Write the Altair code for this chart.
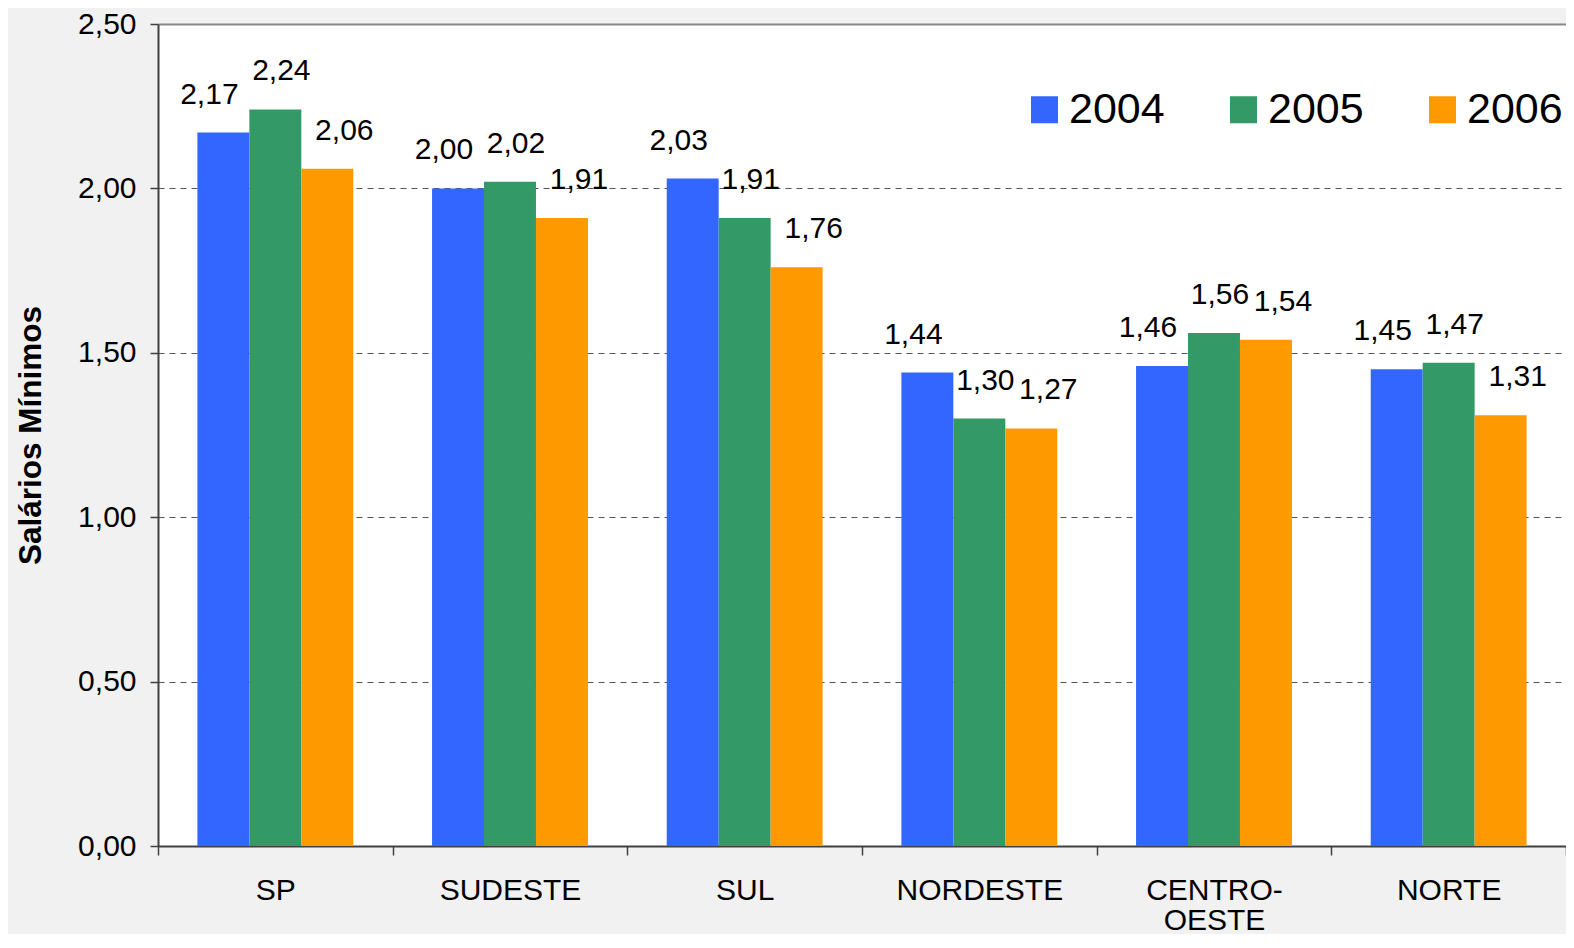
import altair as alt
import pandas as pd

regions = ["SP", "SUDESTE", "SUL", "NORDESTE", "CENTRO-OESTE", "NORTE"]
years = ["2004", "2005", "2006"]
v2004 = [2.17, 2.00, 2.03, 1.44, 1.46, 1.45]
v2005 = [2.24, 2.02, 1.91, 1.30, 1.56, 1.47]
v2006 = [2.06, 1.91, 1.76, 1.27, 1.54, 1.31]
colors = ["#3366FF", "#339966", "#FF9900"]
y_ticks = [0, 0.5, 1.0, 1.5, 2.0, 2.5]

rows = []
for yr, vals in zip(years, [v2004, v2005, v2006]):
    for r, v in zip(regions, vals):
        rows.append({"region": r, "year": yr, "value": v})
df = pd.DataFrame(rows)

FONT = "Liberation Sans"
PLOT_H = 822

x_enc = alt.X(
    "region:N",
    sort=regions,
    scale=alt.Scale(paddingInner=0, paddingOuter=0),
    axis=alt.Axis(
        title=None,
        tickBand="extent",
        labelExpr="datum.value == 'CENTRO-OESTE' ? ['CENTRO-', 'OESTE'] : datum.label",
        labelFontSize=30,
        labelColor="black",
        labelPadding=20,
        labelLineHeight=30,
        labelAngle=0,
        tickSize=9,
        tickColor="#404040",
        tickWidth=1.5,
        domainColor="#404040",
        domainWidth=2,
        grid=False,
    ),
)
xoff = alt.XOffset("year:N", sort=years, scale=alt.Scale(domain=years, paddingInner=0, paddingOuter=0.758))
y_enc = alt.Y(
    "value:Q",
    scale=alt.Scale(domain=[0, 2.5], nice=False),
    axis=alt.Axis(
        title="Salários Mínimos",
        titleFontSize=31.5,
        titleFontWeight="bold",
        titleColor="black",
        titleX=-127,
        titleY=PLOT_H / 2,
        titleAngle=270,
        titleAlign="center",
        titleBaseline="middle",
        values=y_ticks,
        labelExpr="replace(format(datum.value, '.2f'), '.', ',')",
        labelFontSize=30,
        labelColor="black",
        labelPadding=14,
        tickSize=8,
        tickColor="#404040",
        tickWidth=1.5,
        domainColor="#404040",
        domainWidth=2,
        grid=True,
        gridColor={"condition": {"test": "datum.value >= 2.5", "value": "#888888"}, "value": "#555555"},
        gridDash={"condition": {"test": "datum.value >= 2.5", "value": []}, "value": [6, 5]},
        gridWidth={"condition": {"test": "datum.value >= 2.5", "value": 2}, "value": 1},
    ),
)

bars = alt.Chart(df).mark_bar().encode(
    x=x_enc,
    xOffset=xoff,
    y=y_enc,
    color=alt.Color(
        "year:N",
        scale=alt.Scale(domain=years, range=colors),
        legend=alt.Legend(
            title=None,
            orient="none",
            legendX=865,
            legendY=64,
            direction="horizontal",
            symbolType="square",
            symbolSize=729,
            symbolStrokeWidth=0,
            labelFontSize=43,
            labelColor="black",
            labelOffset=3,
            columnPadding=57,
            padding=0,
        ),
    ),
)

dxs = {"2004": -14, "2005": 6, "2006": 17}
label_layers = []
for yr in years:
    label_layers.append(
        alt.Chart(df)
        .transform_filter(alt.datum.year == yr)
        .transform_calculate(lab="replace(format(datum.value, '.2f'), '.', ',')")
        .mark_text(fontSize=30, color="black", baseline="middle", align="center", dx=dxs[yr], dy=-38)
        .encode(x=alt.X("region:N", sort=regions), xOffset=alt.XOffset("year:N", sort=years), y=alt.Y("value:Q"), text="lab:N")
    )

chart = (
    alt.layer(bars, *label_layers)
    .properties(
        width=1408,
        height=PLOT_H,
        padding={"left": 150, "top": 16, "right": 0, "bottom": 88},
        autosize=alt.AutoSizeParams(type="none"),
        background="#f1f1f1",
    )
    .configure(font=FONT)
    .configure_view(fill="white", stroke=None)
)

chart.save("out.html", embed_options={"renderer": "svg", "actions": False})
